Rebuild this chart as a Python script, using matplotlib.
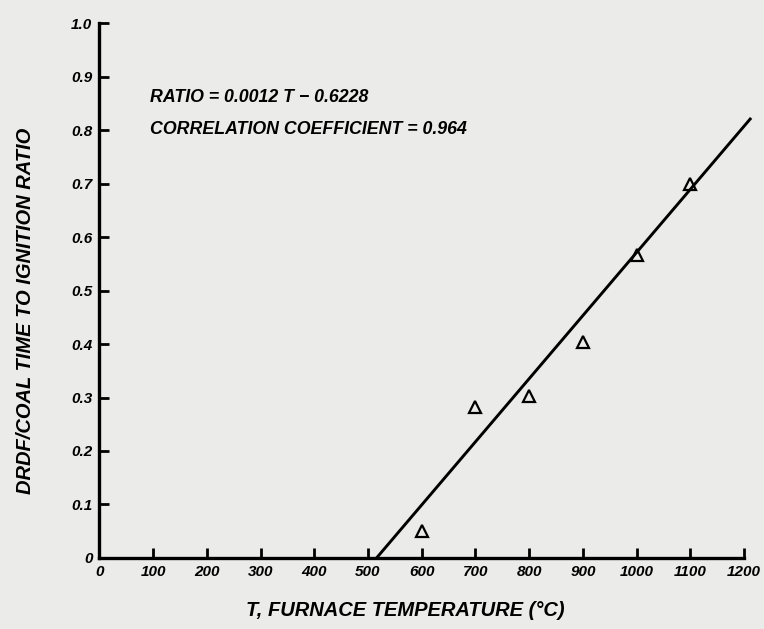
import matplotlib
matplotlib.use("Agg")
import matplotlib.pyplot as plt
import numpy as np

temperature = [600, 700, 800, 900, 1000, 1100]
ratio = [0.050, 0.283, 0.303, 0.404, 0.566, 0.700]
# regression line as drawn in the figure (end points)
fit_T = [516, 1213]
fit_ratio = [0.0, 0.823]
x_ticks = [0, 100, 200, 300, 400, 500, 600, 700, 800, 900, 1000, 1100, 1200]
y_ticks = [0, 0.1, 0.2, 0.3, 0.4, 0.5, 0.6, 0.7, 0.8, 0.9, 1.0]
y_tick_labels = ["0", "0.1", "0.2", "0.3", "0.4", "0.5", "0.6", "0.7", "0.8", "0.9", "1.0"]

bg = "#ebebe9"
plt.rcParams['font.family'] = ['Liberation Sans', 'DejaVu Sans']
fig = plt.figure(figsize=(7.64, 6.29), dpi=100, facecolor=bg)
ax = fig.add_axes([0.130, 0.113, 0.844, 0.850], facecolor=bg)

ax.plot(fit_T, fit_ratio, color="black", lw=2.1, clip_on=False, zorder=2,
        solid_capstyle="butt")
ax.plot(temperature, ratio, linestyle="none", marker="^", markersize=9,
        markerfacecolor="none", markeredgecolor="black", markeredgewidth=1.6, zorder=3)

ax.set_xlim(0, 1200)
ax.set_ylim(0, 1.0)
for s in ["top", "right"]:
    ax.spines[s].set_visible(False)
for s in ["left", "bottom"]:
    ax.spines[s].set_linewidth(2.4)
    ax.spines[s].set_color("black")

ax.set_xticks(x_ticks)
ax.set_xticklabels([str(v) for v in x_ticks])
ax.set_yticks(y_ticks)
ax.set_yticklabels(y_tick_labels)
ax.tick_params(direction="in", length=7, width=2, colors="black", labelsize=11, pad=5)
for lab in ax.get_xticklabels() + ax.get_yticklabels():
    lab.set_fontweight("bold")
    lab.set_fontstyle("italic")

ax.set_xlabel("T, FURNACE TEMPERATURE (°C)", fontsize=14.5, fontweight="bold",
              fontstyle="italic")
ax.xaxis.set_label_coords(0.475, -0.080)
ax.set_ylabel("DRDF/COAL TIME TO IGNITION RATIO", fontsize=14.5, fontweight="bold",
              fontstyle="italic")
ax.yaxis.set_label_coords(-0.099, 0.462)

ax.text(95, 0.862, "RATIO = 0.0012 T − 0.6228", fontsize=12.8, fontweight="bold",
        fontstyle="italic", va="center", ha="left")
ax.text(95, 0.801, "CORRELATION COEFFICIENT = 0.964", fontsize=12.8, fontweight="bold",
        fontstyle="italic", va="center", ha="left")

fig.savefig("out.png", dpi=100, facecolor=bg)
